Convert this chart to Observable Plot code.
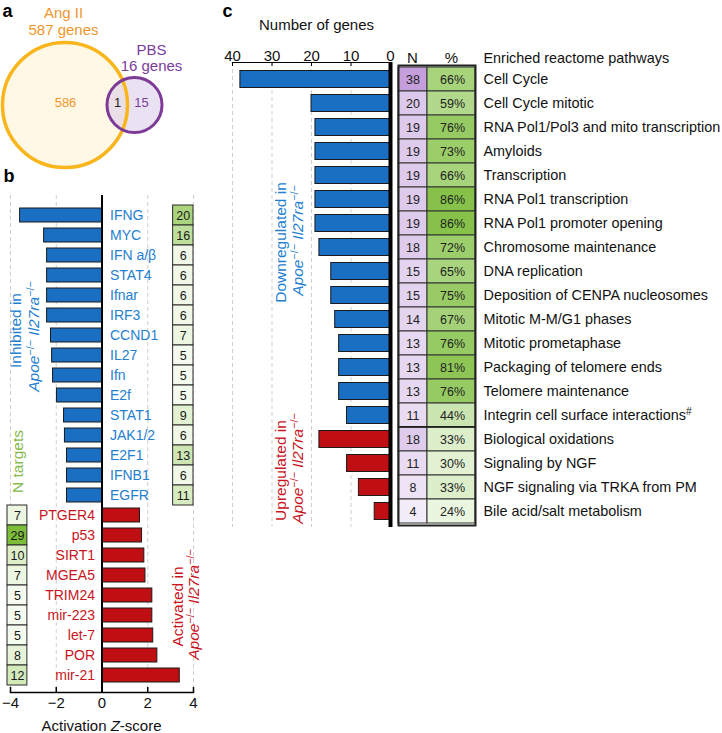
<!DOCTYPE html>
<html><head><meta charset="utf-8">
<script src="https://cdn.jsdelivr.net/npm/d3@7"></script>
<script src="https://cdn.jsdelivr.net/npm/@observablehq/plot@0.6"></script>
<style>
body{margin:0;background:#fff;}
#wrap{position:relative;width:722px;height:733px;overflow:hidden;background:#fff;}
#wrap svg{position:absolute;left:0;top:0;}
</style></head><body><div id="wrap"></div>
<script>
// ---------- data ----------
const vennSets = ["Ang II", "PBS"];
const vennTotals = [587, 16];
const vennRegions = [586, 1, 15]; // Ang II only, shared, PBS only

const inhibitedGenes = ["IFNG","MYC","IFN a/β","STAT4","Ifnar","IRF3","CCND1","IL27","Ifn","E2f","STAT1","JAK1/2","E2F1","IFNB1","EGFR"];
const inhibitedZ = [-3.58,-2.53,-2.4,-2.4,-2.4,-2.4,-2.23,-2.18,-2.14,-1.97,-1.66,-1.62,-1.53,-1.53,-1.53];
const inhibitedN = [20,16,6,6,6,6,7,5,5,5,9,6,13,6,11];
const activatedGenes = ["PTGER4","p53","SIRT1","MGEA5","TRIM24","mir-223","let-7","POR","mir-21"];
const activatedZ = [1.66,1.75,1.85,1.9,2.2,2.2,2.24,2.42,3.4];
const activatedN = [7,29,10,7,5,5,5,8,12];
const zTicks = [-4,-2,0,2,4];

const downPathways = ["Cell Cycle","Cell Cycle mitotic","RNA Pol1/Pol3 and mito transcription","Amyloids","Transcription","RNA Pol1 transcription","RNA Pol1 promoter opening","Chromosome maintenance","DNA replication","Deposition of CENPA nucleosomes","Mitotic M-M/G1 phases","Mitotic prometaphase","Packaging of telomere ends","Telomere maintenance","Integrin cell surface interactions^#^"];
const downGenes = [38,20,19,19,19,19,19,18,15,15,14,13,13,13,11];
const downPct = [66,59,76,73,66,86,86,72,65,75,67,76,81,76,44];
const upPathways = ["Biological oxidations","Signaling by NGF","NGF signaling via TRKA from PM","Bile acid/salt metabolism"];
const upGenes = [18,11,8,4];
const upPct = [33,30,33,24];
const geneTicks = [0,10,20,30,40];

// ---------- styles / layout ----------
const FONT = '"Liberation Sans", Arial, Helvetica, sans-serif';
const W = 722, H = 733;
const BLUE = "#1a6fc2", RED = "#c00f12";
const BLUE_T = "#2480cf", RED_T = "#c8141c", ORANGE_T = "#f0962e", PURPLE_T = "#7a3d9c", GREEN_T = "#85b94b";
const MINUS = "\u2212";
const GENO = "_Apoe_^" + MINUS + "/" + MINUS + "^ _Il27ra_^" + MINUS + "/" + MINUS + "^";

function basePlot(opts) {
  return Plot.plot(Object.assign({
    width: W, height: H,
    style: {fontFamily: FONT, fontSize: "15px", background: "transparent", overflow: "visible"}
  }, opts));
}

// ---------- panel b ----------
const inhRows = inhibitedGenes.map((g, i) => ({gene: g, z: inhibitedZ[i], n: inhibitedN[i]}));
const actRows = activatedGenes.map((g, i) => ({gene: g, z: activatedZ[i], n: activatedN[i]}));
const allB = inhRows.concat(actRows);
const greenBox = d3.scaleLinear().domain([5, 29]).range(["#f6fbef", "#7cbd3a"]);
const bTop = 197, bBottom = 692;

const plotB = basePlot({
  marginLeft: 10, marginRight: W - 193, marginTop: bTop, marginBottom: H - bBottom,
  x: {domain: [-4, 4], axis: null},
  y: {type: "band", domain: allB.map(d => d.gene), padding: 0, axis: null},
  color: {type: "identity"},
  marks: [
    Plot.ruleX([-4, -2, 2, 4], {x: d => d, stroke: "#cfcfcf", strokeDasharray: "4,3", insetTop: -2}),
    Plot.barX(allB, {x1: 0, x2: "z", y: "gene", fill: d => d.z < 0 ? BLUE : RED, stroke: "#1a1a1a", strokeWidth: 1, insetTop: 3, insetBottom: 3}),
    Plot.ruleX([0], {stroke: "#000", strokeWidth: 2, insetTop: -2}),
    Plot.text(inhRows, {x: 0, y: "gene", text: "gene", dx: 8, textAnchor: "start", fill: BLUE_T, fontSize: 14}),
    Plot.text(actRows, {x: 0, y: "gene", text: "gene", dx: -7, textAnchor: "end", fill: RED_T, fontSize: 14}),
    Plot.barX(inhRows, {x1: 3, x2: 4, y: "gene", fill: d => greenBox(d.n), stroke: "#2a2a2a", strokeWidth: 1, insetLeft: 2.5}),
    Plot.text(inhRows, {x: 3.5, dx: 1.25, y: "gene", text: d => String(d.n), fill: "#1a1a1a", fontSize: 12.5}),
    Plot.barX(actRows, {x1: -4, x2: -3, y: "gene", fill: d => greenBox(d.n), stroke: "#2a2a2a", strokeWidth: 1, dx: -3, insetRight: 3}),
    Plot.text(actRows, {x: -3.5, dx: -4.5, y: "gene", text: d => String(d.n), fill: "#1a1a1a", fontSize: 12.5}),
    Plot.frame({anchor: "bottom", stroke: "#000", strokeWidth: 1.5}),
    Plot.tickX(zTicks, {x: d => d, insetTop: (bBottom - bTop) - 5, stroke: "#000", strokeWidth: 1.5}),
    Plot.text(zTicks, {x: d => d, frameAnchor: "bottom", dy: 15, text: d => d < 0 ? MINUS + (-d) : String(d), fontSize: 15, fill: "#111"})
  ]
});

// ---------- panel c ----------
const rowsC = downPathways.map((p, i) => ({pathway: p, genes: downGenes[i], pct: downPct[i], up: false}))
  .concat(upPathways.map((p, i) => ({pathway: p, genes: upGenes[i], pct: upPct[i], up: true})));
const cTop = 65, cBottom = 525;
const bw = (cBottom - cTop) / rowsC.length;
const yC = {type: "band", domain: rowsC.map(d => d.pathway), padding: 0, axis: null};

const plotC = basePlot({
  marginLeft: 232, marginRight: W - 390, marginTop: cTop, marginBottom: H - cBottom,
  x: {domain: [0, 40], reverse: true, axis: null},
  y: yC,
  color: {type: "identity"},
  marks: [
    Plot.ruleX([10, 20, 30, 40], {x: d => d, stroke: "#cfcfcf", strokeDasharray: "4,3", insetTop: -3, insetBottom: -2}),
    Plot.barX(rowsC, {x1: 0, x2: "genes", y: "pathway", fill: d => d.up ? RED : BLUE, stroke: "#1a1a1a", strokeWidth: 1, insetTop: 3.5, insetBottom: 3.5}),
    Plot.ruleX([0], {stroke: "#000", strokeWidth: 4, insetTop: -3, insetBottom: -2}),
    Plot.frame({anchor: "top", dy: -3, stroke: "#000", strokeWidth: 1.2}),
    Plot.tickX(geneTicks, {x: d => d, insetBottom: (cBottom - cTop) - 4, dy: -3, stroke: "#000"}),
    Plot.text(geneTicks, {x: d => d, frameAnchor: "top", dy: -15, text: d => String(d), fontSize: 15, fill: "#111"})
  ]
});

// table next to panel c
const purpleCell = d3.scaleLinear().domain([4, 38]).range(["#f2ecf8", "#c49fdb"]);
const greenCell = d3.scaleLinear().domain([24, 86]).range(["#ebf6e0", "#86c24a"]);
const plotT = basePlot({
  marginLeft: 398, marginRight: W - 475, marginTop: cTop, marginBottom: H - cBottom,
  x: {domain: [0, 77], axis: null},
  y: yC,
  color: {type: "identity"},
  marks: [
    Plot.barX(rowsC, {x1: 0, x2: 29, y: "pathway", fill: d => purpleCell(d.genes), stroke: "#333", strokeWidth: 1}),
    Plot.barX(rowsC, {x1: 29, x2: 77, y: "pathway", fill: d => greenCell(d.pct), stroke: "#333", strokeWidth: 1}),
    Plot.text(rowsC, {x: 14.5, y: "pathway", text: d => String(d.genes), fontSize: 12.5, fill: "#222"}),
    Plot.text(rowsC, {x: 54, y: "pathway", text: d => d.pct + "%", fontSize: 12.5, fill: "#222"}),
    Plot.barX([upPathways[0]], {x1: 0, x2: 77, y: d => d, fill: "#222", insetTop: -1, insetBottom: bw - 1}),
    Plot.frame({stroke: "#222", strokeWidth: 2}),
    Plot.text(rowsC, {x: 77, dx: 8, y: "pathway", text: "pathway", textAnchor: "start", fontSize: 14.4, fill: "#111"}),
    Plot.text(["N"], {x: 14, frameAnchor: "top", dy: -13, text: d => d, fontSize: 15, fill: "#111"}),
    Plot.text(["%"], {x: 53, frameAnchor: "top", dy: -13, text: d => d, fontSize: 15, fill: "#111"}),
    Plot.text(["Enriched reactome pathways"], {x: 77, dx: 8, frameAnchor: "top", dy: -13, text: d => d, textAnchor: "start", fontSize: 14.4, fill: "#111"})
  ]
});

// ---------- panel a (Venn) + annotations ----------
const vennLayout = [
  {set: vennSets[0], cx: 64.5, cy: 104.5, r: 62.5, fill: "#fff8e4", fillOpacity: 1, stroke: "#f8b51c", sw: 3.5},
  {set: vennSets[1], cx: 134, cy: 104.5, r: 27.5, fill: "#d9cbe8", fillOpacity: 0.55, stroke: "#7d3a96", sw: 3}
];
const textsA = [
  {t: vennSets[0], x: 63, y: 13, c: ORANGE_T, s: 15},
  {t: vennTotals[0] + " genes", x: 63, y: 29.5, c: ORANGE_T, s: 15},
  {t: vennSets[1], x: 151, y: 49.5, c: PURPLE_T, s: 15},
  {t: vennTotals[1] + " genes", x: 151, y: 66, c: PURPLE_T, s: 15},
  {t: String(vennRegions[0]), x: 65, y: 102.5, c: ORANGE_T, s: 13},
  {t: String(vennRegions[1]), x: 117, y: 102.5, c: "#222", s: 13},
  {t: String(vennRegions[2]), x: 141, y: 102.5, c: PURPLE_T, s: 13},
  {t: "Number of genes", x: 316, y: 25, c: "#111", s: 15},
  {t: "Activation _Z_-score", x: 101, y: 726, c: "#111", s: 15}
];
const panelLabels = [{t: "a", x: 2, y: 11}, {t: "b", x: 3, y: 176}, {t: "c", x: 222, y: 11}];
const rotLabels = [
  {t: "Inhibited in", x: 16, y: 330, c: BLUE_T},
  {t: GENO, x: 34, y: 336, c: BLUE_T},
  {t: "N targets", x: 18, y: 461, c: GREEN_T},
  {t: "Activated in", x: 178, y: 606, c: RED_T},
  {t: GENO, x: 194, y: 604, c: RED_T},
  {t: "Downregulated in", x: 281, y: 242, c: BLUE_T},
  {t: GENO, x: 298, y: 240, c: BLUE_T},
  {t: "Upregulated in", x: 281, y: 470, c: RED_T},
  {t: GENO, x: 298, y: 468, c: RED_T}
];

const plotA = basePlot({
  margin: 0,
  x: {type: "identity", axis: null},
  y: {type: "identity", axis: null},
  r: {type: "identity"},
  color: {type: "identity"},
  marks: [
    Plot.dot(vennLayout, {x: "cx", y: "cy", r: "r", fill: "fill", fillOpacity: "fillOpacity", stroke: "none"}),
    Plot.dot(vennLayout, {x: "cx", y: "cy", r: "r", fill: "none", stroke: "stroke", strokeWidth: "sw"}),
    Plot.text(textsA, {x: "x", y: "y", text: "t", fill: "c", fontSize: "s"}),
    Plot.text(panelLabels, {x: "x", y: "y", text: "t", textAnchor: "start", fontWeight: "bold", fontSize: 18, fill: "#000"}),
    Plot.text(rotLabels, {x: "x", y: "y", text: "t", fill: "c", rotate: -90, fontSize: 15.5})
  ]
});

// ---------- rich text: _italic_ and ^superscript^ ----------
function richify(root) {
  const NS = "http://www.w3.org/2000/svg";
  root.querySelectorAll("text").forEach(t => {
    if (t.querySelector("tspan")) return;
    const s = t.textContent;
    if (!/[_^]/.test(s)) return;
    t.textContent = "";
    const parts = s.split(/(_[^_]+_|\^[^^]+\^)/).filter(p => p);
    let raised = false;
    for (const p of parts) {
      const ts = document.createElementNS(NS, "tspan");
      if (p[0] === "^") {
        ts.textContent = p.slice(1, -1);
        ts.setAttribute("font-size", "0.7em");
        ts.setAttribute("dy", "-0.55em");
        raised = true;
      } else {
        if (p[0] === "_") { ts.textContent = p.slice(1, -1); ts.setAttribute("font-style", "italic"); }
        else ts.textContent = p;
        if (raised) { ts.setAttribute("dy", "0.385em"); raised = false; }
      }
      t.appendChild(ts);
    }
  });
}

const wrap = document.getElementById("wrap");
for (const p of [plotB, plotC, plotT, plotA]) { richify(p); wrap.appendChild(p); }
</script>
</body></html>
